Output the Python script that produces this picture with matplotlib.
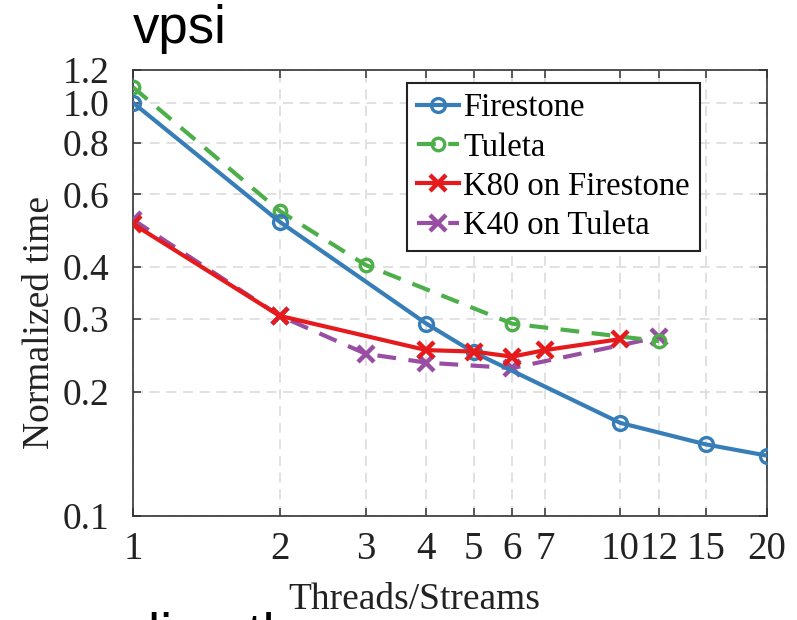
import matplotlib
matplotlib.use("Agg")
import matplotlib.pyplot as plt
from matplotlib.ticker import FixedLocator, FixedFormatter, NullLocator

# ---- data ----
fire_x = [1, 2, 4, 5, 10, 15, 20]
fire_y = [1.0, 0.515, 0.292, 0.249, 0.168, 0.149, 0.140]

tul_x = [1, 2, 3, 6, 12]
tul_y = [1.09, 0.547, 0.405, 0.292, 0.265]

k80_x = [1, 2, 4, 5, 6, 7, 10]
k80_y = [0.509, 0.305, 0.252, 0.250, 0.243, 0.252, 0.268]

k40_x = [1, 2, 3, 4, 6, 12]
k40_y = [0.521, 0.305, 0.247, 0.235, 0.228, 0.271]

xticks = [1, 2, 3, 4, 5, 6, 7, 10, 12, 15, 20]
xticklabels = ["1", "2", "3", "4", "5", "6", "7", "10", "12", "15", "20"]
yticks = [0.1, 0.2, 0.3, 0.4, 0.6, 0.8, 1.0, 1.2]
yticklabels = ["0.1", "0.2", "0.3", "0.4", "0.6", "0.8", "1.0", "1.2"]

labels = ["Firestone", "Tuleta", "K80 on Firestone", "K40 on Tuleta"]

# ---- figure ----
serif = ["Liberation Serif", "DejaVu Serif"]
fig = plt.figure(figsize=(7.97, 6.2), dpi=100)
ax = fig.add_axes([0.1669, 0.1677, 0.9624 - 0.1669, 0.8871 - 0.1677])

blue, green, red, purple = "#377eb8", "#4daf4a", "#e41a1c", "#984ea3"

ax.plot(fire_x, fire_y, color=blue, lw=3, marker="o", ms=10, mfc="none",
        mew=2.4, label=labels[0], zorder=5)
ax.plot(tul_x, tul_y, color=green, lw=3, ls=(0, (4.5, 3)), marker="o", ms=9,
        mfc="none", mew=2.4, label=labels[1], zorder=4)
ax.plot(k80_x, k80_y, color=red, lw=3, marker="x", ms=11.5, mew=3.2,
        label=labels[2], zorder=6)
ax.plot(k40_x, k40_y, color=purple, lw=3, ls=(0, (4.5, 3)), marker="x", ms=11.5,
        mew=3.2, label=labels[3], zorder=3)

ax.set_xscale("log")
ax.set_yscale("log")
ax.set_xlim(1, 20)
ax.set_ylim(0.1, 1.2)

ax.xaxis.set_major_locator(FixedLocator(xticks))
ax.xaxis.set_major_formatter(FixedFormatter(xticklabels))
ax.xaxis.set_minor_locator(NullLocator())
ax.yaxis.set_major_locator(FixedLocator(yticks))
ax.yaxis.set_major_formatter(FixedFormatter(yticklabels))
ax.yaxis.set_minor_locator(NullLocator())

ax.tick_params(axis="both", which="major", direction="in", length=6, width=1.1,
               color="#333333", top=True, right=True, labelcolor="#222222")
ax.tick_params(axis="x", labelsize=28, pad=11)
ax.tick_params(axis="y", labelsize=27, pad=17)
for lab in ax.get_xticklabels() + ax.get_yticklabels():
    lab.set_fontfamily(serif)

for s in ax.spines.values():
    s.set_color("#333333")
    s.set_linewidth(1.2)

ax.grid(True, which="major", ls=(0, (6, 4)), color="#dcdcdc", lw=1.2, zorder=0)
ax.set_axisbelow(True)

ax.set_xlabel("Threads/Streams", fontsize=27, family=serif, color="#222222")
ax.xaxis.set_label_coords(0.443, -0.150)
ax.set_ylabel("Normalized time", fontsize=27, family=serif, color="#222222")
ax.yaxis.set_label_coords(-0.12, 0.435)

leg = ax.legend(loc="upper right", bbox_to_anchor=(0.894, 0.971), borderaxespad=0,
                prop={"family": serif, "size": 23.5}, frameon=True, fancybox=False,
                framealpha=1, edgecolor="#222222", handlelength=1.3,
                handletextpad=0.12, labelspacing=0.27, borderpad=0.3)
leg.get_frame().set_linewidth(1.5)

fig.text(133 / 797, (620 - 43) / 620, "vpsi", fontsize=38, family="Liberation Sans",
         va="baseline", ha="left", color="black")
fig.text(118 / 797, (620 - 651) / 620, "align the", fontsize=39,
         family="Liberation Sans", va="baseline", ha="left", color="black")

fig.savefig("out.png", dpi=100)
